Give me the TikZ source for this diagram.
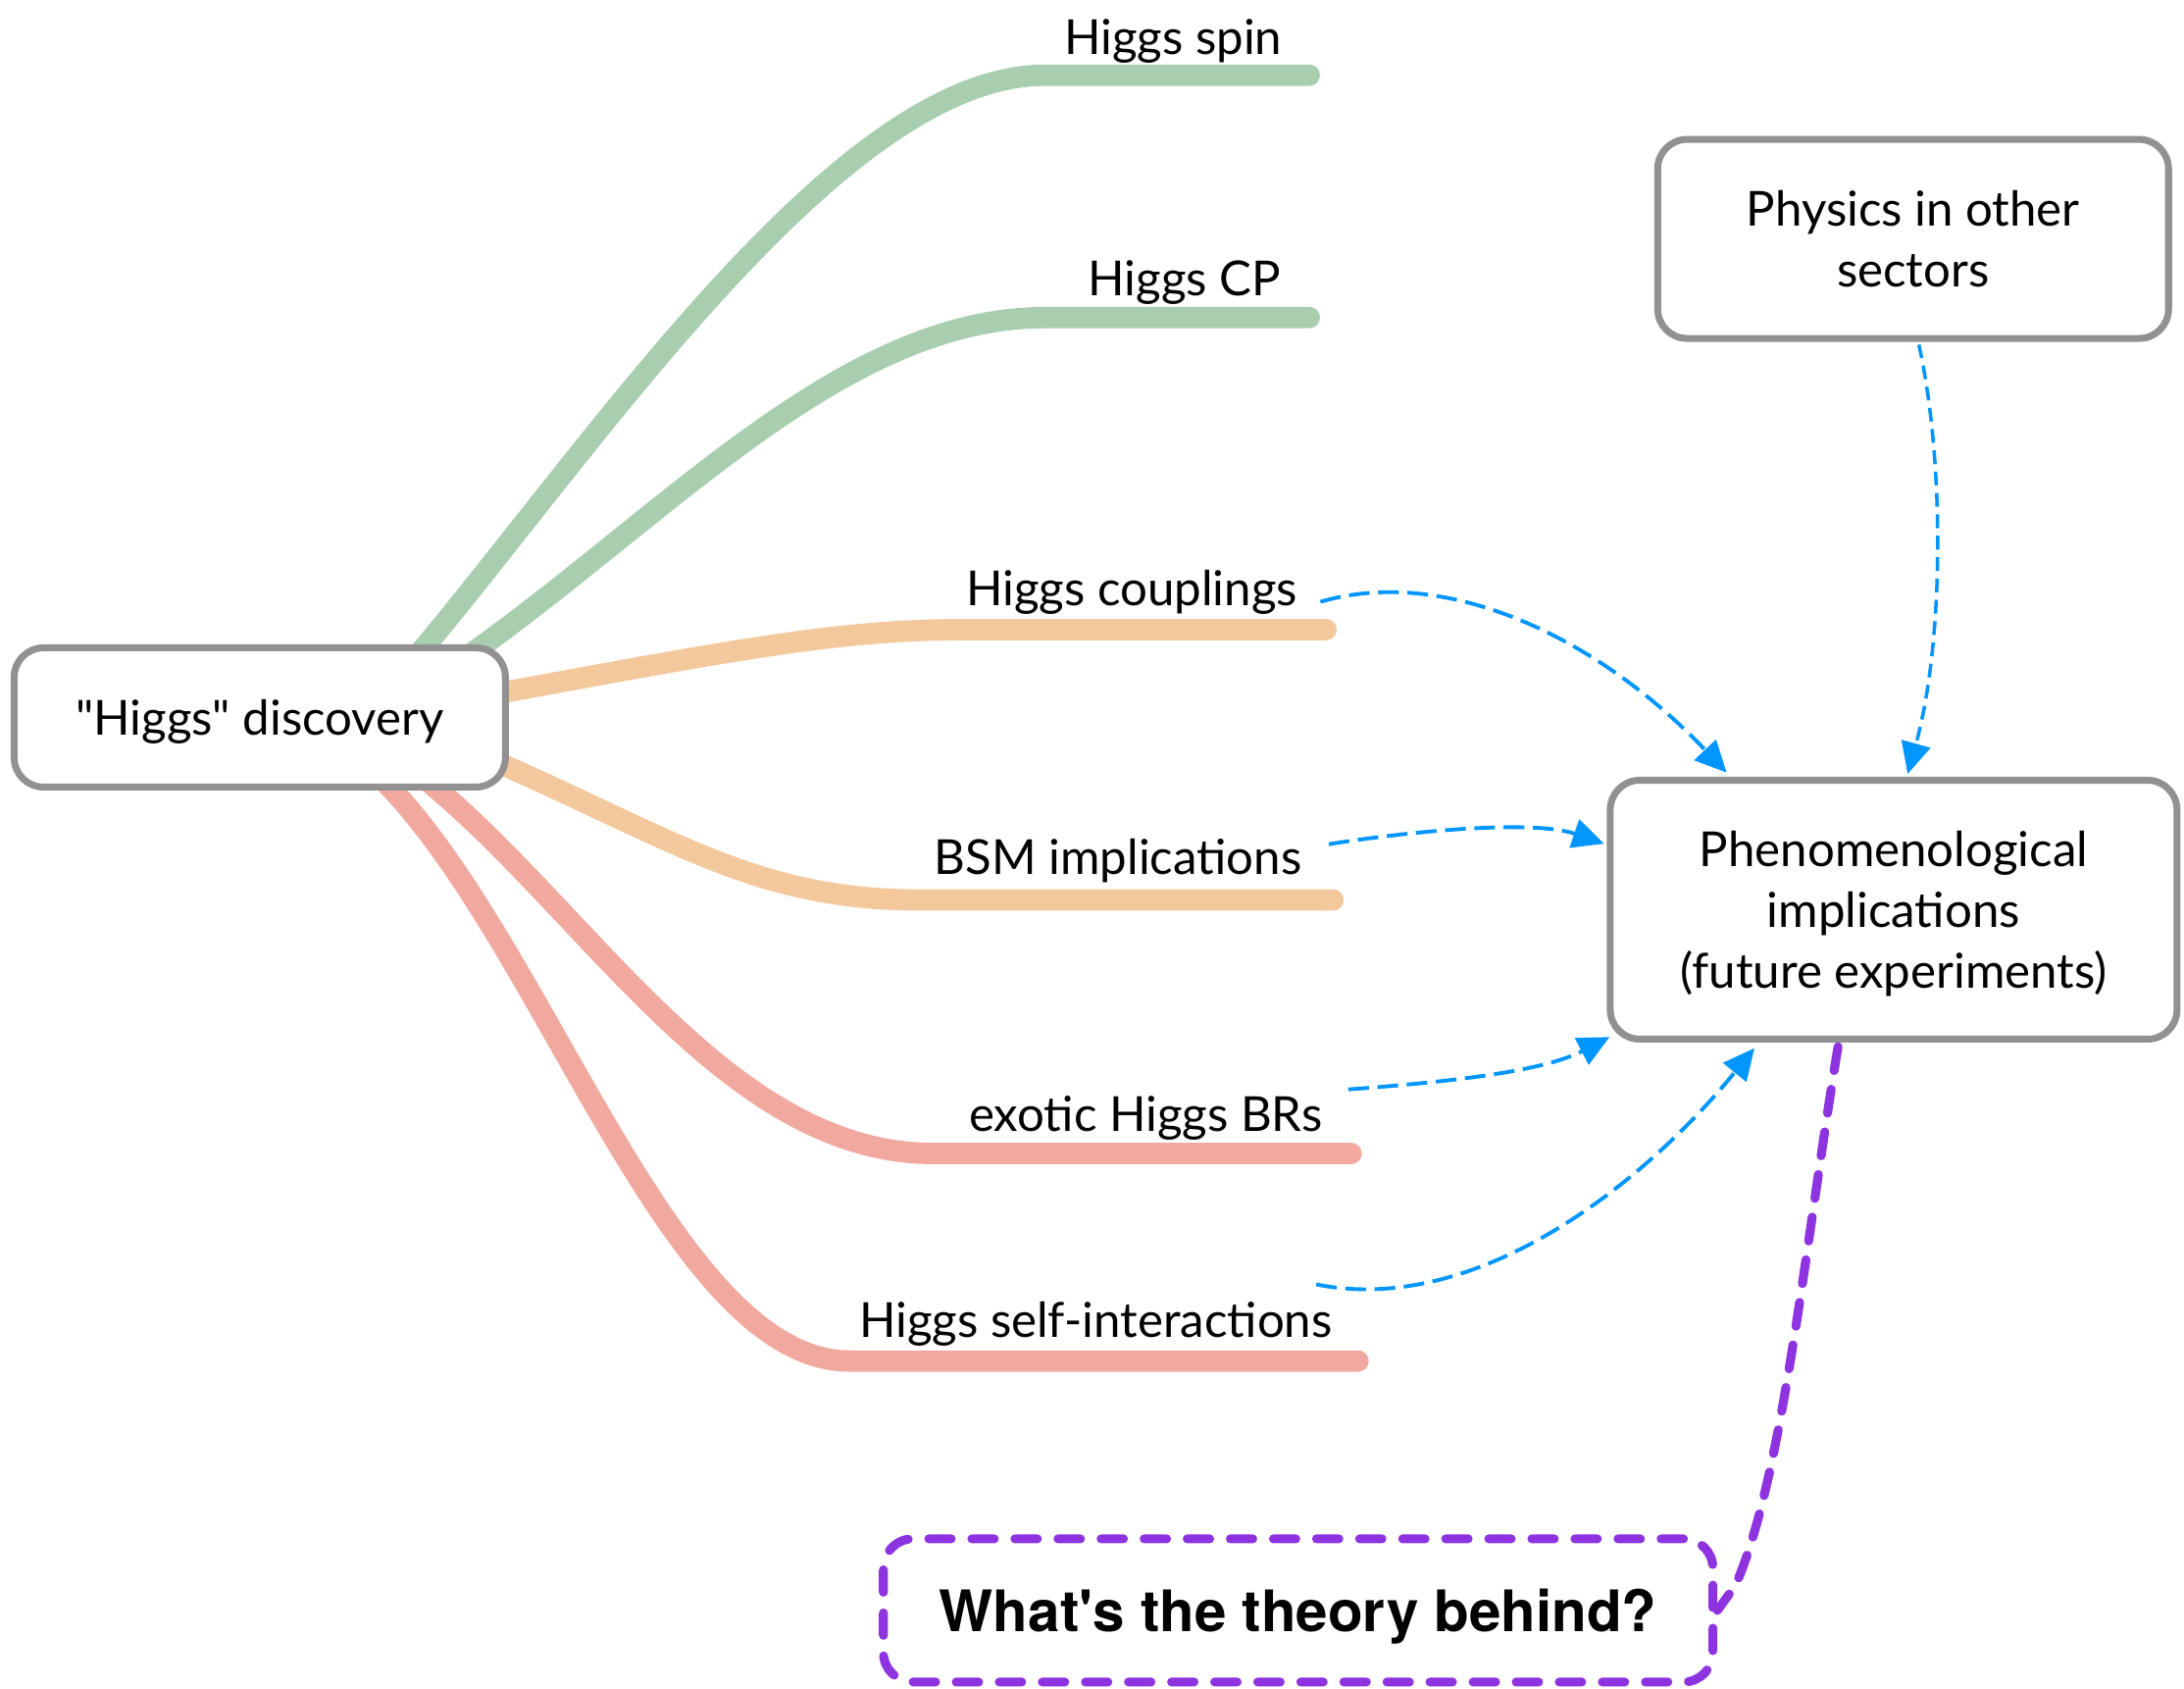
\documentclass[tikz,border=0pt]{standalone}
\usepackage{fontspec}
\setmainfont{Lato}
\newfontfamily\headfont{TeX Gyre Heros}
\usetikzlibrary{arrows.meta,calc}
\definecolor{boxgray}{RGB}{145,145,145}
\definecolor{branchgreen}{RGB}{168,206,175}
\definecolor{branchorange}{RGB}{243,200,156}
\definecolor{branchred}{RGB}{241,168,158}
\definecolor{linkblue}{RGB}{0,150,255}
\definecolor{theorypurple}{RGB}{142,51,224}
\begin{document}
\begin{tikzpicture}[x=0.0142cm,y=-0.0142cm,
  branch/.style={line width=6.2pt, line cap=round},
  lbl/.style={font=\fontsize{14}{17}\selectfont, inner sep=0pt, anchor=base east},
  topicbox/.style={draw=boxgray, line width=2pt, rounded corners=0.3cm, fill=white,
    align=center, font=\fontsize{14}{17.7}\selectfont, inner sep=0pt, text depth=0pt},
  link/.style={draw=linkblue, line width=1.1pt, dash pattern=on 6pt off 2.5pt,
    -{Triangle[length=0.32cm,width=0.3cm]}},
  thinlink/.style={link, line width=1pt, dash pattern=on 4pt off 2.2pt},
  theorylink/.style={draw=theorypurple, line width=2.6pt, line cap=round,
    dash pattern=on 7pt off 5.5pt},
  theorybox/.style={draw=theorypurple, line width=2.6pt, line cap=round,
    dash pattern=on 6.5pt off 6pt, rounded corners=0.3cm, fill=white,
    font=\headfont\bfseries\fontsize{16.6}{20}\selectfont, inner sep=0pt, text depth=0pt}]

\fill[white] (0,0) rectangle (1568,1212);
\useasboundingbox (0,0) rectangle (1568,1212);

% branch end points
\coordinate (spinS) at (290,482);  \coordinate (spinE) at (940,54);
\coordinate (cpS)   at (320,482);  \coordinate (cpE)   at (940,228);
\coordinate (coS)   at (345,500);  \coordinate (coE)   at (952,452);
\coordinate (bsmS)  at (345,542);  \coordinate (bsmE)  at (957,646);
\coordinate (exS)   at (300,555);  \coordinate (exE)   at (970,828);
\coordinate (selfS) at (270,555);  \coordinate (selfE) at (975,977);

% branches out of the discovery box
\draw[branch, branchgreen] (spinS) .. controls (420,330) and (600,54) .. (750,54) -- (spinE);
\draw[branch, branchgreen] (cpS) .. controls (470,380) and (600,228) .. (750,228) -- (cpE);
\draw[branch, branchorange] (coS) .. controls (520,468) and (600,452) .. (690,452) -- (coE);
\draw[branch, branchorange] (bsmS) .. controls (480,600) and (540,646) .. (660,646) -- (bsmE);
\draw[branch, branchred] (exS) .. controls (420,650) and (520,828) .. (670,828) -- (exE);
\draw[branch, branchred] (selfS) .. controls (390,670) and (480,977) .. (610,977) -- (selfE);

% branch labels
\node[lbl] (spinlbl) at (921,39)  {Higgs spin};
\node[lbl] (cplbl)   at (920,212) {Higgs CP};
\node[lbl] (colbl)   at (932,435) {Higgs couplings};
\node[lbl] (bsmlbl)  at (935,628) {BSM implications};
\node[lbl] (exlbl)   at (950,812) {exotic Higgs BRs};
\node[lbl] (selflbl) at (957,960) {Higgs self-interactions};

% boxes
\node[topicbox, minimum width=5.01cm, minimum height=1.42cm] (disc) at (186.5,515) {\textquotedbl Higgs\textquotedbl\ discovery};
\node[topicbox, minimum width=5.21cm, minimum height=2.03cm] (phys) at (1373.5,171.5) {Physics in other\\sectors};
\node[topicbox, minimum width=5.78cm, minimum height=2.64cm] (phen) at (1359.5,653) {Phenomenological\\implications\\(future experiments)};
\node[theorybox, minimum width=8.46cm, minimum height=1.46cm] (theory) at (932,1156) {What's the theory behind?};

% dashed links into the phenomenology box
\coordinate (coA)   at (948,432);
\coordinate (bsmA)  at (954,606);
\coordinate (exA)   at (968,782);
\coordinate (selfA) at (945,922);
\draw[link] (coA) .. controls (1040,405) and (1150,460) .. ($(phen.north west)+(86,-3)$);
\draw[link] (bsmA) .. controls (1010,597) and (1100,588) .. ($(phen.north west)+(-2,48)$);
\draw[link] (exA) .. controls (1050,776) and (1110,768) .. ($(phen.south west)+(2,-4)$);
\draw[link] (selfA) .. controls (1060,945) and (1180,850) .. ($(phen.south west)+(106,4)$);
\draw[thinlink] ($(phys.south west)+(190,2)$) .. controls (1396,330) and (1396,460) .. ($(phen.north west)+(216,-2)$);

% link down to the theory question
\draw[theorylink] ($(phen.south west)+(166,3)$) .. controls (1295,900) and (1280,1060) .. (1246,1138) -- (theory.east);
\end{tikzpicture}
\end{document}
